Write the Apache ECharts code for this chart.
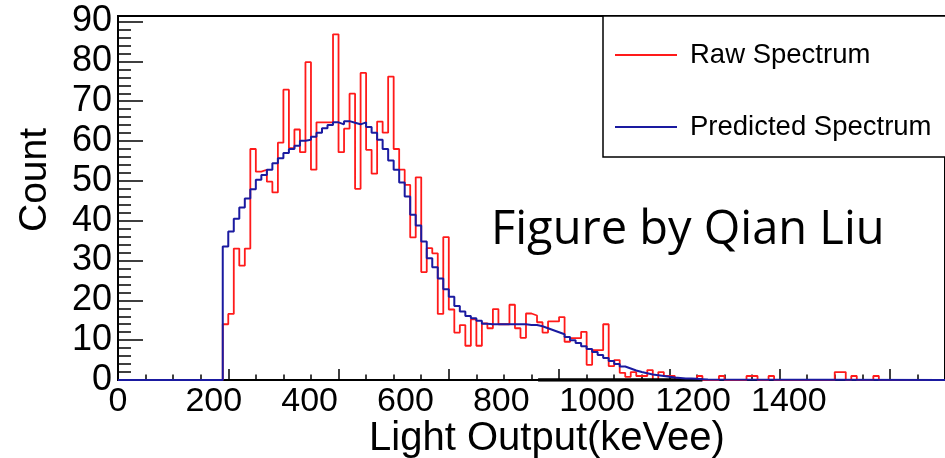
<!DOCTYPE html>
<html>
<head>
<meta charset="utf-8">
<title>Light Output Spectrum</title>
<script src="https://cdn.jsdelivr.net/npm/echarts@6/dist/echarts.min.js"></script>
<style>
  html, body { margin: 0; padding: 0; background: #ffffff; }
  #chart { width: 945px; height: 458px; }
</style>
</head>
<body>
<div id="chart"></div>
<script>
// Histogram binning (keVee)
const binWidth = 10;
const xMin = 0;
const xMax = 1500;
const yMax = 91.4;
const firstBin = 190;   // low edge of the first filled bin

// Measured counts per 10 keVee bin, starting at 190 keVee
const rawCounts = [
  14, 16.6, 33, 28.7, 33, 58, 52.3, 52.8, 49.8, 47.1,
  59.6, 72.9, 58.2, 62.9, 57.2, 79.8, 52.8, 64.7, 64.7, 64.7,
  86.8, 57.2, 63.1, 71.9, 48, 77.1, 57.8, 51.8, 64.9, 62.1,
  76.2, 58, 52.8, 49, 35.8, 50.9, 27.1, 33.1, 31.8, 16.6,
  35.9, 17.7, 11.9, 13.8, 8.6, 15.2, 8.6, 14.2, 13, 17.8,
  14, 14, 18.9, 13, 10.6, 16.7, 16.2, 14.5, 11.9, 14.7,
  14.7, 15.8, 9.6, 10.5, 10.5, 12.1, 3.8, 7.5, 7.5, 14,
  3.5, 5, 1.8, 0.8, 2, 1, 1, 2.5, 0, 2,
  1, 1, 0, 0, 0, 0, 1, 0, 0, 0,
  1, 0, 0, 0, 0, 1, 1, 0, 0, 1,
  0, 0, 0, 0, 0, 0, 0, 0, 0, 0,
  0, 2, 2, 0, 1, 0, 0, 0, 1
];

// Simulated response per 10 keVee bin, starting at 190 keVee
const predictedCounts = [
  33.5, 37.3, 40.5, 43.3, 45.6, 47.9, 50.3, 51.5, 52.8, 54.4,
  55.7, 57, 58, 58.8, 60.1, 60.3, 61.1, 62.1, 63.2, 64,
  64.7, 64.2, 65, 64.6, 64.2, 64.7, 63.5, 62.1, 60.3, 58,
  55.1, 52.8, 49.6, 46.1, 41.5, 38.8, 34.8, 30.6, 28.3, 25.5,
  22.8, 20.9, 18.6, 17.2, 16.1, 15.5, 14.9, 14.1, 14, 14,
  14, 14, 14, 14, 14, 13.8, 13.8, 13.5, 13, 12.5,
  12, 11.5, 10.8, 10, 9.3, 8.5, 7.8, 7, 6.3, 5.5,
  4.8, 4, 3.4, 2.9, 2.4, 2, 1.7, 1.4, 1.2, 1,
  0.8, 0.6, 0.5, 0.4, 0.4, 0.3, 0.2, 0.1
];

// Range of the fit baseline drawn along the axis (keVee)
const fitRange = [762, 1060];

// Tick labels along the energy axis
const xTickLabels = ['0', '200', '400', '600', '800', '1000', '1200', '1400'];
// Scale used to place the energy labels
const xLabelScaleMax = 1726;

const seriesNames = ['Raw Spectrum', 'Predicted Spectrum'];

// Turn per-bin counts into outline points: one point per low bin edge
function stepPoints(counts) {
  const pts = [[xMin, 0]];
  counts.forEach(function (v, i) { pts.push([firstBin + i * binWidth, v]); });
  pts.push([firstBin + counts.length * binWidth, 0]);
  pts.push([xMax, 0]);
  return pts;
}

const chart = echarts.init(document.getElementById('chart'), null, { renderer: 'canvas' });

const labelFont = 'Liberation Sans, Arial, Helvetica, sans-serif';

chart.setOption({
  animation: false,
  backgroundColor: '#ffffff',
  title: {
    text: 'Figure by Qian Liu',
    left: 491,
    top: 207,
    padding: 0,
    textStyle: {
      fontFamily: 'Open Sans, sans-serif',
      fontSize: 47,
      fontWeight: 'normal',
      color: '#000000'
    }
  },
  legend: {
    data: seriesNames,
    orient: 'vertical',
    left: 603,
    top: 16,
    padding: [24, 40, 15, 12],
    itemGap: 42,
    itemWidth: 62,
    itemHeight: 2,
    icon: 'rect',
    backgroundColor: '#ffffff',
    borderColor: '#000000',
    borderWidth: 1.5,
    borderRadius: 0,
    selectedMode: false,
    textStyle: {
      fontFamily: labelFont,
      fontSize: 27.5,
      lineHeight: 30,
      color: '#000000',
      padding: [0, 0, 0, 8]
    }
  },
  grid: {
    left: 118,
    right: 0,
    top: 16,
    bottom: 78,
    containLabel: false,
    outerBoundsMode: 'none',
    show: true,
    borderColor: '#000000',
    borderWidth: 2,
    backgroundColor: 'transparent'
  },
  xAxis: [
    {
      type: 'value',
      min: xMin,
      max: xMax,
      interval: 200,
      position: 'bottom',
      name: 'Light Output(keVee)',
      nameLocation: 'middle',
      nameGap: 39,
      nameTextStyle: {
        fontFamily: labelFont,
        fontSize: 40,
        color: '#000000',
        padding: [0, 0, 0, 31]
      },
      axisLine: { show: true, lineStyle: { color: '#000000', width: 2 } },
      axisTick: { show: true, inside: true, length: 11, lineStyle: { color: '#000000', width: 1.5 } },
      axisLabel: { show: false },
      splitLine: { show: false }
    },
    {
      type: 'value',
      min: xMin,
      max: xMax,
      interval: 50,
      position: 'bottom',
      axisLine: { show: false },
      axisTick: { show: true, inside: true, length: 5.5, lineStyle: { color: '#000000', width: 1.5 } },
      axisLabel: { show: false },
      splitLine: { show: false }
    },
    {
      type: 'value',
      min: 0,
      max: xLabelScaleMax,
      interval: 200,
      position: 'bottom',
      axisLine: { show: false },
      axisTick: { show: false },
      splitLine: { show: false },
      axisLabel: {
        show: true,
        margin: 5,
        showMaxLabel: false,
        fontFamily: labelFont,
        fontSize: 34,
        color: '#000000',
        formatter: function (v) {
          const s = String(v);
          return xTickLabels.indexOf(s) >= 0 ? s : '';
        }
      }
    }
  ],
  yAxis: [
    {
      type: 'value',
      min: 0,
      max: yMax,
      interval: 10,
      position: 'left',
      name: 'Count',
      nameLocation: 'middle',
      nameGap: 63,
      nameTextStyle: {
        fontFamily: labelFont,
        fontSize: 39,
        color: '#000000',
        padding: [0, 0, 0, 36]
      },
      axisLine: { show: true, lineStyle: { color: '#000000', width: 2 } },
      axisTick: { show: true, inside: true, length: 25, lineStyle: { color: '#000000', width: 1.5 } },
      axisLabel: {
        show: true,
        margin: 6,
        showMaxLabel: false,
        fontFamily: labelFont,
        fontSize: 36,
        color: '#000000'
      },
      splitLine: { show: false }
    },
    {
      type: 'value',
      min: 0,
      max: yMax,
      interval: 2,
      position: 'left',
      offset: 0,
      axisLine: { show: false },
      axisTick: { show: true, inside: true, length: 13, lineStyle: { color: '#000000', width: 1.5 } },
      axisLabel: { show: false },
      splitLine: { show: false }
    }
  ],
  series: [
    {
      name: seriesNames[0],
      type: 'line',
      step: 'end',
      xAxisIndex: 0,
      yAxisIndex: 0,
      data: stepPoints(rawCounts),
      showSymbol: false,
      symbol: 'none',
      color: '#ff1a1a',
      lineStyle: { color: '#ff1a1a', width: 1.8 },
      z: 2
    },
    {
      name: 'fit range',
      type: 'line',
      xAxisIndex: 0,
      yAxisIndex: 0,
      data: [[fitRange[0], 0], [fitRange[1], 0]],
      showSymbol: false,
      symbol: 'none',
      color: '#000000',
      lineStyle: { color: '#000000', width: 3.5 },
      z: 3
    },
    {
      name: seriesNames[1],
      type: 'line',
      step: 'end',
      xAxisIndex: 0,
      yAxisIndex: 0,
      data: stepPoints(predictedCounts),
      showSymbol: false,
      symbol: 'none',
      color: '#1a1aa0',
      lineStyle: { color: '#1a1aa0', width: 2 },
      z: 4
    }
  ]
});
</script>
</body>
</html>
